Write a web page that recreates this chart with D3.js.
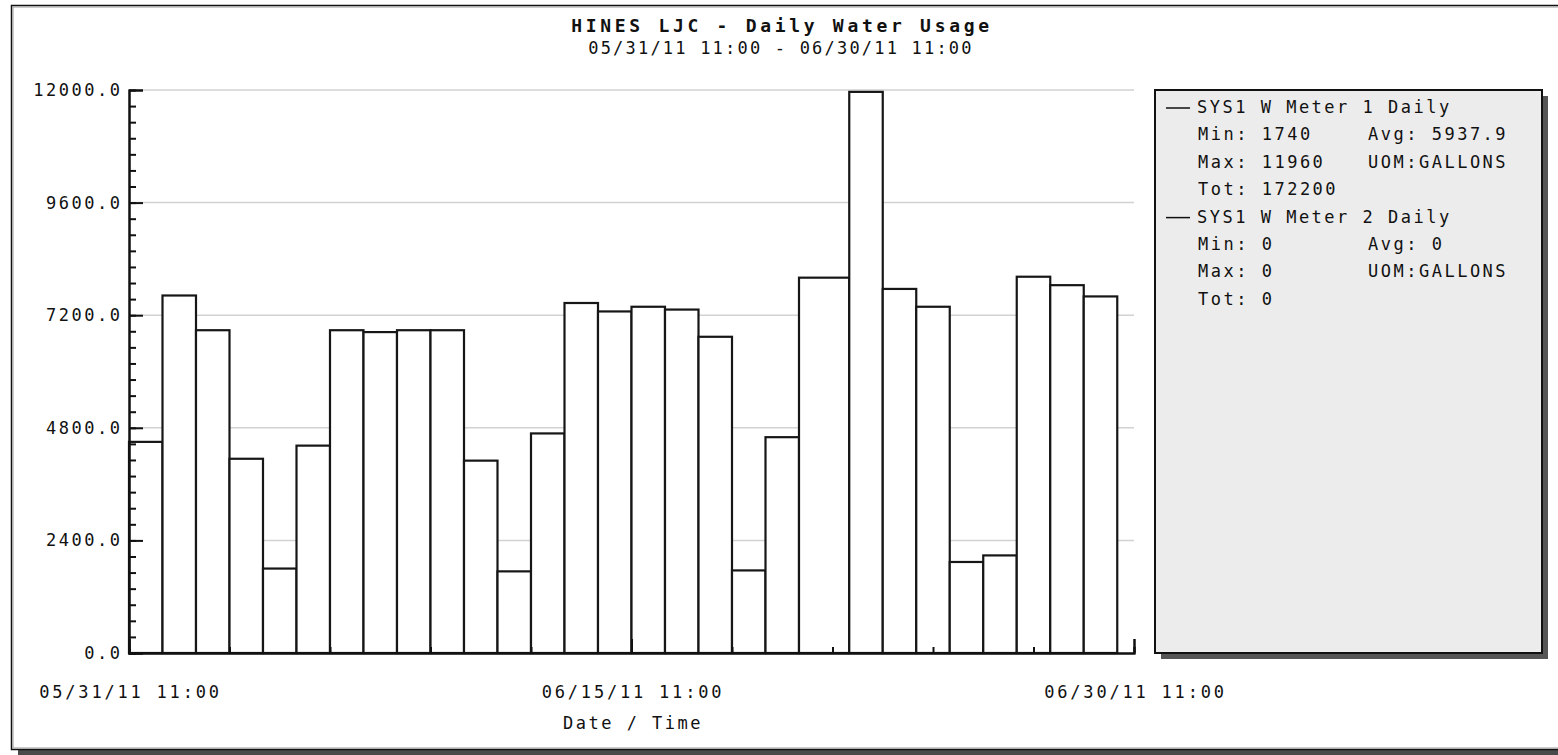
<!DOCTYPE html>
<html>
<head>
<meta charset="utf-8">
<script src="https://d3js.org/d3.v7.min.js"></script>
<style>
  body { margin: 0; background: #fff; }
  text { font-family: "DejaVu Sans Mono", "Liberation Mono", monospace; fill: #111; }
</style>
</head>
<body>
<div id="graph-container"></div>
<script>
// chart data

// start time of each daily reading (readings move to 23:00 after 06/20)
var barTimes = [
  "05/31/11 11:00", "06/01/11 11:00", "06/02/11 11:00", "06/03/11 11:00",
  "06/04/11 11:00", "06/05/11 11:00", "06/06/11 11:00", "06/07/11 11:00",
  "06/08/11 11:00", "06/09/11 11:00", "06/10/11 11:00", "06/11/11 11:00",
  "06/12/11 11:00", "06/13/11 11:00", "06/14/11 11:00", "06/15/11 11:00",
  "06/16/11 11:00", "06/17/11 11:00", "06/18/11 11:00", "06/19/11 11:00",
  "06/20/11 11:00", "06/21/11 23:00", "06/22/11 23:00", "06/23/11 23:00",
  "06/24/11 23:00", "06/25/11 23:00", "06/26/11 23:00", "06/27/11 23:00",
  "06/28/11 23:00"
];
var lastTime = "06/29/11 23:00";

// gallons per reading
var usage = [
  4500, 7620, 6880, 4140, 1800, 4420, 6880, 6840, 6880, 6880,
  4100, 1740, 4680, 7460, 7280, 7380, 7320, 6740, 1760, 4600,
  8000, 11960, 7760, 7380, 1940, 2080, 8020, 7840, 7600
];

var yTicks = [0, 2400, 4800, 7200, 9600, 12000];
var xTickLabels = ["05/31/11 11:00", "06/15/11 11:00", "06/30/11 11:00"];

var chartTitle = "HINES LJC - Daily Water Usage";
var chartSubtitle = "05/31/11 11:00 - 06/30/11 11:00";
var xTitle = "Date / Time";

var legendNames = ["SYS1 W Meter 1 Daily", "SYS1 W Meter 2 Daily"];
var legendLeft = [["Min: 1740", "Max: 11960", "Tot: 172200"], ["Min: 0", "Max: 0", "Tot: 0"]];
var legendRight = [["Avg: 5937.9", "UOM:GALLONS"], ["Avg: 0", "UOM:GALLONS"]];

(function() {
  var W = 1558, H = 755;
  var FS = "17px", LS = "2.5px";
  var parseTime = d3.timeParse("%m/%d/%y %H:%M");

  var svg = d3.select("#graph-container").append("svg")
    .attr("width", W)
    .attr("height", H);

  // outer frame with its shadow
  svg.append("rect")
    .attr("x", 18).attr("y", 11).attr("width", 1560).attr("height", 745)
    .attr("fill", "#4a4a4a");
  svg.append("rect")
    .attr("x", 11.5).attr("y", 5.5).attr("width", 1560).attr("height", 744)
    .attr("fill", "#fff").attr("stroke", "#111").attr("stroke-width", 1.5);
  svg.append("rect")
    .attr("x", 13).attr("y", 7).attr("width", 1560).attr("height", 741)
    .attr("fill", "none").attr("stroke", "#999").attr("stroke-width", 1);

  // titles
  svg.append("text")
    .attr("x", 782).attr("y", 27)
    .attr("text-anchor", "middle").attr("dominant-baseline", "middle")
    .style("font-size", "18px").style("font-weight", "bold")
    .style("letter-spacing", "3.7px")
    .text(chartTitle);
  svg.append("text")
    .attr("x", 781).attr("y", 49)
    .attr("text-anchor", "middle").attr("dominant-baseline", "middle")
    .style("font-size", FS).style("letter-spacing", "2.2px")
    .text(chartSubtitle);

  // scales
  var t0 = parseTime(xTickLabels[0]), t1 = parseTime(xTickLabels[2]);
  var x = d3.scaleTime().domain([t0, t1]).range([129, 1134]);
  var y = d3.scaleLinear().domain([0, 12000]).range([653, 90]);

  // grid lines
  svg.append("g").selectAll("line")
    .data(yTicks.slice(1))
    .join("line")
    .attr("x1", x.range()[0]).attr("x2", x.range()[1])
    .attr("y1", d => y(d)).attr("y2", d => y(d))
    .attr("stroke", "#d2d2d2").attr("stroke-width", 1.5);

  // bars: each reading spans until the next one
  var bars = barTimes.map(function(t, i) {
    return {
      start: parseTime(t),
      end: parseTime(i < barTimes.length - 1 ? barTimes[i + 1] : lastTime),
      value: usage[i]
    };
  });

  svg.append("g").selectAll("rect")
    .data(bars)
    .join("rect")
    .attr("x", d => x(d.start))
    .attr("y", d => y(d.value))
    .attr("width", d => x(d.end) - x(d.start))
    .attr("height", d => y(0) - y(d.value))
    .attr("fill", "#fff")
    .attr("stroke", "#161616")
    .attr("stroke-width", 2.2);

  // y axis: minor and major ticks pointing inward, labels on the left
  var minorY = d3.range(0, 12000, 2400 / 7);
  svg.append("g")
    .attr("transform", "translate(" + x.range()[0] + ",0)")
    .call(d3.axisRight(y).tickValues(minorY).tickSize(7).tickFormat(""));
  svg.append("g")
    .attr("transform", "translate(" + x.range()[0] + ",0)")
    .call(d3.axisRight(y).tickValues(yTicks).tickSize(14).tickFormat(""));
  var yLabels = svg.append("g")
    .attr("transform", "translate(" + x.range()[0] + ",0)")
    .call(d3.axisLeft(y).tickValues(yTicks).tickSize(0).tickPadding(9).tickFormat(d3.format(".1f")));
  yLabels.select(".domain").remove();
  yLabels.selectAll("text")
    .style("font-size", FS).style("letter-spacing", LS)
    .attr("font-family", null).attr("fill", "#111")
    .attr("dx", LS);

  // x axis: ticks every 3 days pointing up, longer ticks at the labels
  var minorX = d3.range(0, 31, 3).map(d => d3.timeDay.offset(t0, d));
  var majorX = xTickLabels.map(parseTime);
  svg.append("g")
    .attr("transform", "translate(0," + y(0) + ")")
    .call(d3.axisTop(x).tickValues(minorX).tickSize(6).tickFormat(""));
  svg.append("g")
    .attr("transform", "translate(0," + y(0) + ")")
    .call(d3.axisTop(x).tickValues(majorX).tickSize(14).tickFormat(""));
  var xLabels = svg.append("g")
    .attr("transform", "translate(0," + y(0) + ")")
    .call(d3.axisBottom(x).tickValues(majorX).tickSize(0).tickPadding(0)
      .tickFormat((d, i) => xTickLabels[i]));
  xLabels.select(".domain").remove();
  xLabels.selectAll("text")
    .attr("y", 40).attr("dy", null)
    .attr("dominant-baseline", "middle")
    .attr("font-family", null).attr("fill", "#111")
    .attr("dx", "1px")
    .style("font-size", FS).style("letter-spacing", "2.8px");

  svg.selectAll(".domain, .tick line")
    .attr("stroke", "#111").attr("stroke-width", 2);

  svg.append("text")
    .attr("x", 633).attr("y", 724)
    .attr("text-anchor", "middle").attr("dominant-baseline", "middle")
    .style("font-size", FS).style("letter-spacing", LS)
    .text(xTitle);

  // legend box
  var lx = 1155, ly = 90, lw = 387, lh = 563;
  svg.append("rect")
    .attr("x", lx + 6).attr("y", ly + 6).attr("width", lw).attr("height", lh)
    .attr("fill", "#555");
  svg.append("rect")
    .attr("x", lx).attr("y", ly).attr("width", lw).attr("height", lh)
    .attr("fill", "#ececec").attr("stroke", "#111").attr("stroke-width", 2);

  var rowH = 27.4, row0 = 108;
  var legend = svg.append("g");
  legendNames.forEach(function(name, s) {
    var top = row0 + s * 4 * rowH;
    legend.append("line")
      .attr("x1", lx + 11).attr("x2", lx + 35)
      .attr("y1", top).attr("y2", top)
      .attr("stroke", "#111").attr("stroke-width", 1.5);
    legend.append("text")
      .attr("x", lx + 42).attr("y", top)
      .attr("dominant-baseline", "middle")
      .style("font-size", FS).style("letter-spacing", LS)
      .text(name);
    legendLeft[s].forEach(function(t, r) {
      legend.append("text")
        .attr("x", lx + 43).attr("y", top + (r + 1) * rowH)
        .attr("dominant-baseline", "middle")
        .style("font-size", FS).style("letter-spacing", LS)
        .text(t);
    });
    legendRight[s].forEach(function(t, r) {
      legend.append("text")
        .attr("x", lx + 213).attr("y", top + (r + 1) * rowH)
        .attr("dominant-baseline", "middle")
        .style("font-size", FS).style("letter-spacing", LS)
        .text(t);
    });
  });
})();
</script>
</body>
</html>
